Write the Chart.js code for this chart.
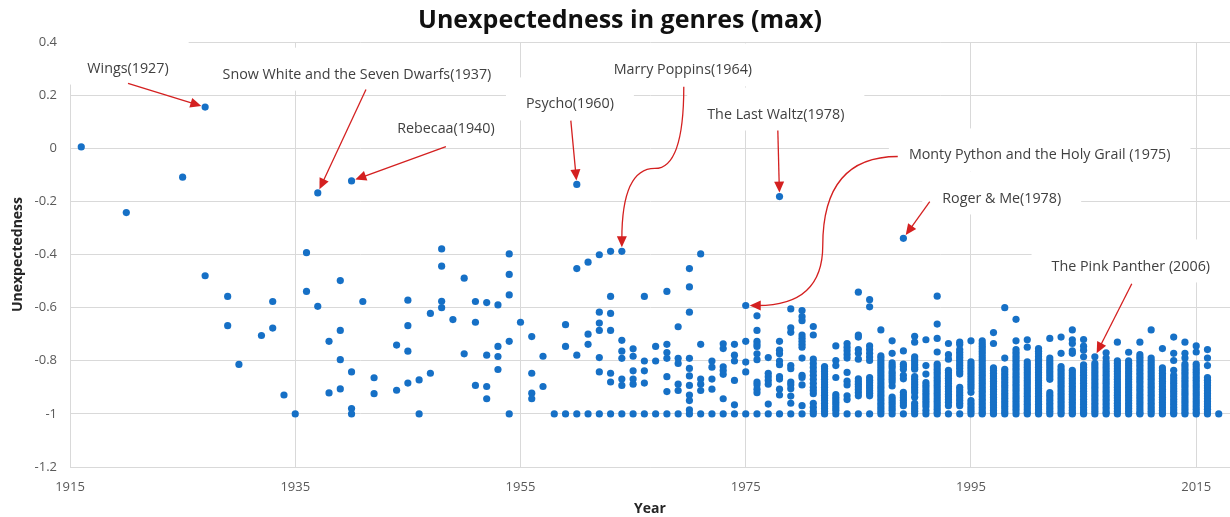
<!DOCTYPE html>
<html>
<head>
<meta charset="utf-8">
<script src="https://cdn.jsdelivr.net/npm/chart.js@4.4.1/dist/chart.umd.min.js"></script>
<style>
    html, body { margin: 0; padding: 0; background: #fff; }
    #wrap { width: 1230px; height: 517px; position: relative; }
</style>
</head>
<body>
<div id="wrap"><canvas id="grafico"></canvas></div>
<script>
const xTicks = [1915, 1935, 1955, 1975, 1995, 2015];
const yTicks = [-1.2, -1, -0.8, -0.6, -0.4, -0.2, 0, 0.2, 0.4];

// [year, [unexpectedness values of that year]]
const anosAntigos = [
    [1916, [0.005]], [1920, [-0.242]], [1925, [-0.109]], [1927, [0.155, -0.48]],
    [1929, [-0.558, -0.668]], [1930, [-0.814]], [1932, [-0.705]], [1933, [-0.577, -0.677]],
    [1934, [-0.929]], [1935, [-1]], [1936, [-0.393, -0.539]], [1937, [-0.168, -0.595]],
    [1938, [-0.727, -0.921]], [1939, [-0.498, -0.686, -0.796, -0.906]],
    [1940, [-0.123, -0.842, -0.98, -1]], [1941, [-0.577]], [1942, [-0.864, -0.924]],
    [1944, [-0.741, -0.911]], [1945, [-0.572, -0.668, -0.764, -0.884]], [1946, [-0.872, -1]],
    [1947, [-0.622, -0.847]], [1948, [-0.379, -0.444, -0.576, -0.6]], [1949, [-0.645]],
    [1950, [-0.489, -0.774]], [1951, [-0.577, -0.655, -0.893]],
    [1952, [-0.581, -0.779, -0.897, -0.943]], [1953, [-0.59, -0.746, -0.784, -0.833]],
    [1954, [-0.398, -0.475, -0.552, -0.727, -1]]
];

const anosMeio = [
    [1955, [-0.655]], [1956, [-0.709, -0.847, -0.922, -0.943]], [1957, [-0.783, -0.897]],
    [1958, [-1]], [1959, [-0.664, -0.746, -1]], [1960, [-0.136, -0.453, -0.779, -1]],
    [1961, [-0.429, -0.7, -0.738, -1]],
    [1962, [-0.401, -0.617, -0.658, -0.686, -0.788, -0.842, -1]],
    [1963, [-0.388, -0.558, -0.622, -0.686, -0.847, -0.88, -1]],
    [1964, [-0.388, -0.723, -0.764, -0.791, -0.869, -0.893, -1]],
    [1965, [-0.755, -0.783, -0.838, -0.869, -0.888, -1]],
    [1966, [-0.558, -0.801, -0.838, -0.884, -1]], [1967, [-0.746, -0.801, -1]],
    [1968, [-0.539, -0.738, -0.769, -0.791, -0.86, -0.916, -1]],
    [1969, [-0.672, -0.791, -0.81, -0.888, -0.912, -1]],
    [1970, [-0.453, -0.522, -0.617, -0.791, -0.829, -0.857, -0.893, -0.929, -0.95, -0.985, -1]],
    [1971, [-0.398, -0.738, -0.869, -0.888, -0.912, -1]],
    [1972, [-0.801, -0.824, -0.869, -0.907, -1]],
    [1973, [-0.736, -0.754, -0.823, -0.837, -0.851, -0.943, -1]],
    [1974, [-0.738, -0.779, -0.801, -0.874, -0.966, -1]],
    [1975, [-0.592, -0.727, -0.805, -0.842, -1]],
    [1976, [-0.631, -0.686, -0.727, -0.737, -0.746, -0.774, -0.796, -0.88, -0.89, -0.907, -0.92, -1]],
    [1977, [-0.788, -0.847, -0.86, -0.874, -0.888, -0.963, -1]],
    [1978, [-0.182, -0.727, -0.76, -0.774, -0.801, -0.815, -0.86, -0.869, -0.907, -0.929, -1]],
    [1979, [-0.605, -0.676, -0.693, -0.818, -0.83, -0.88, -0.89, -0.905, -0.933, -0.96, -1]]
];

const anosRecentes = [
    [1980, [-0.611, -0.634, -0.649, -0.703, -0.715, -0.727, -0.738, -0.749, -0.79, -0.855, -0.863, -0.891, -0.969, -1]],
    [1981, [-0.671, -0.703, -0.794, -0.81, -0.825, -0.84, -0.855, -0.87, -0.885, -0.9, -0.912, -0.924, -0.96, -0.975, -0.99, -1]],
    [1982, [-0.822, -0.83, -0.84, -0.85, -0.86, -0.87, -0.88, -0.89, -0.9, -0.91, -0.92, -0.93, -0.94, -0.95, -0.96, -0.97, -0.98, -0.99, -1]],
    [1983, [-0.744, -0.799, -0.818, -0.863, -0.927, -0.937, -0.947, -0.957, -0.967, -0.977, -0.987, -1]],
    [1984, [-0.735, -0.749, -0.762, -0.776, -0.79, -0.844, -0.877, -0.891, -0.932, -0.946, -1]],
    [1985, [-0.542, -0.703, -0.711, -0.758, -0.772, -0.794, -0.868, -0.878, -0.888, -0.898, -0.908, -0.92, -0.932, -1]],
    [1986, [-0.57, -0.597, -0.744, -0.758, -0.772, -0.786, -0.799, -0.863, -0.873, -0.883, -0.893, -0.903, -0.913, -0.922, -0.932, -1]],
    [1987, [-0.684, -0.782, -0.79, -0.8, -0.81, -0.82, -0.83, -0.84, -0.85, -0.86, -0.87, -0.88, -0.89, -0.9, -0.91, -0.92, -0.93, -0.94, -0.95, -0.96, -0.97, -0.98, -0.99, -1]],
    [1988, [-0.725, -0.772, -0.808, -0.818, -0.827, -0.841, -0.85, -0.86, -0.87, -0.88, -0.895, -0.937, -0.947, -0.957, -0.967, -0.977, -0.987, -1]],
    [1989, [-0.339, -0.763, -0.813, -0.822, -0.832, -0.855, -0.868, -0.919, -0.929, -0.939, -0.949, -0.959, -0.969, -1]],
    [1990, [-0.708, -0.73, -0.785, -0.795, -0.805, -0.815, -0.825, -0.832, -0.86, -0.87, -0.88, -0.89, -0.9, -0.91, -0.92, -0.937, -0.96, -0.97, -0.98, -0.99, -1]],
    [1991, [-0.721, -0.818, -0.85, -0.882, -0.892, -0.902, -0.912, -0.922, -0.932, -0.942, -0.952, -0.962, -0.972, -0.987, -1]],
    [1992, [-0.557, -0.662, -0.716, -0.767, -0.813, -0.823, -0.833, -0.843, -0.853, -0.863, -0.873, -0.883, -0.893, -0.903, -0.913, -0.923, -0.933, -0.943, -0.953, -0.963, -0.973, -0.983, -0.993, -1]],
    [1993, [-0.735, -0.777, -0.794, -0.836, -0.846, -0.856, -0.866, -0.876, -0.886, -0.896, -0.906, -0.916, -0.926, -0.936, -0.946, -0.956, -0.969, -1]],
    [1994, [-0.73, -0.739, -0.758, -0.768, -0.778, -0.788, -0.798, -0.808, -0.818, -0.828, -0.84, -0.85, -0.9, -0.91, -0.92, -0.93, -0.94, -0.95, -0.96, -0.969, -1]],
    [1995, [-0.725, -0.804, -0.814, -0.824, -0.834, -0.844, -0.854, -0.864, -0.874, -0.884, -0.894, -0.904, -0.919, -0.95, -0.96, -0.97, -0.98, -0.99, -1]],
    [1996, [-0.725, -0.735, -0.745, -0.755, -0.765, -0.775, -0.785, -0.795, -0.805, -0.815, -0.825, -0.835, -0.845, -0.855, -0.865, -0.875, -0.885, -0.895, -0.905, -0.915, -0.925, -0.935, -0.945, -0.955, -0.965, -0.975, -0.985, -0.995, -1]],
    [1997, [-0.694, -0.735, -0.827, -0.837, -0.847, -0.857, -0.867, -0.877, -0.887, -0.897, -0.907, -0.917, -0.927, -0.937, -0.947, -0.957, -0.967, -0.977, -0.987, -0.997, -1]],
    [1998, [-0.6, -0.79, -0.832, -0.842, -0.852, -0.862, -0.872, -0.882, -0.892, -0.902, -0.912, -0.922, -0.932, -0.942, -0.952, -0.962, -0.972, -0.982, -0.992, -1]],
    [1999, [-0.644, -0.725, -0.758, -0.768, -0.778, -0.788, -0.798, -0.808, -0.818, -0.828, -0.838, -0.848, -0.858, -0.868, -0.878, -0.888, -0.898, -0.908, -0.918, -0.928, -0.938, -0.948, -0.958, -0.968, -0.978, -0.988, -1]],
    [2000, [-0.721, -0.749, -0.804, -0.814, -0.824, -0.834, -0.844, -0.854, -0.864, -0.874, -0.884, -0.894, -0.904, -0.914, -0.924, -0.934, -0.944, -0.954, -0.964, -0.974, -0.984, -0.994, -1]],
    [2001, [-0.754, -0.764, -0.774, -0.784, -0.794, -0.804, -0.814, -0.824, -0.834, -0.844, -0.854, -0.864, -0.874, -0.884, -0.894, -0.904, -0.914, -0.924, -0.934, -0.944, -0.954, -0.964, -0.974, -0.984, -0.994, -1]],
    [2002, [-0.716, -0.79, -0.8, -0.81, -0.82, -0.83, -0.84, -0.85, -0.86, -0.87, -0.92, -0.93, -0.94, -0.95, -0.96, -0.97, -0.98, -0.99, -1]],
    [2003, [-0.711, -0.772, -0.822, -0.832, -0.842, -0.852, -0.862, -0.872, -0.882, -0.892, -0.902, -0.912, -0.922, -0.932, -0.942, -0.952, -0.962, -0.972, -0.982, -0.992, -1]],
    [2004, [-0.684, -0.721, -0.735, -0.763, -0.772, -0.836, -0.846, -0.856, -0.866, -0.876, -0.886, -0.896, -0.906, -0.916, -0.926, -0.936, -0.946, -0.956, -0.966, -0.976, -0.986, -0.996, -1]],
    [2005, [-0.72, -0.745, -0.76, -0.785, -0.815, -0.825, -0.835, -0.845, -0.855, -0.865, -0.875, -0.885, -0.895, -0.905, -0.915, -0.925, -0.935, -0.945, -0.955, -0.965, -0.975, -0.985, -0.995, -1]],
    [2006, [-0.785, -0.81, -0.82, -0.83, -0.84, -0.85, -0.86, -0.87, -0.88, -0.89, -0.9, -0.91, -0.92, -0.93, -0.94, -0.95, -0.96, -0.97, -0.98, -0.99, -1]],
    [2007, [-0.77, -0.79, -0.805, -0.815, -0.825, -0.835, -0.845, -0.855, -0.865, -0.875, -0.885, -0.895, -0.905, -0.915, -0.925, -0.935, -0.945, -0.955, -0.965, -0.975, -0.985, -0.995, -1]],
    [2008, [-0.73, -0.8, -0.81, -0.82, -0.83, -0.84, -0.85, -0.86, -0.87, -0.88, -0.89, -0.9, -0.91, -0.92, -0.93, -0.94, -0.95, -0.96, -0.97, -0.98, -0.99, -1]],
    [2009, [-0.768, -0.8, -0.81, -0.82, -0.83, -0.84, -0.85, -0.86, -0.87, -0.88, -0.89, -0.9, -0.91, -0.92, -0.93, -0.94, -0.95, -0.96, -0.97, -0.98, -0.99, -1]],
    [2010, [-0.73, -0.777, -0.787, -0.797, -0.807, -0.817, -0.827, -0.837, -0.847, -0.857, -0.867, -0.877, -0.887, -0.897, -0.907, -0.917, -0.927, -0.937, -0.947, -0.957, -0.967, -0.977, -0.987, -0.997, -1]],
    [2011, [-0.684, -0.79, -0.8, -0.81, -0.82, -0.83, -0.84, -0.85, -0.86, -0.87, -0.88, -0.89, -0.9, -0.91, -0.92, -0.93, -0.94, -0.95, -0.96, -0.97, -0.98, -0.99, -1]],
    [2012, [-0.754, -0.827, -0.837, -0.847, -0.857, -0.867, -0.877, -0.887, -0.897, -0.907, -0.917, -0.927, -0.937, -0.947, -0.957, -0.967, -0.977, -0.987, -0.997, -1]],
    [2013, [-0.711, -0.772, -0.799, -0.836, -0.855, -0.865, -0.875, -0.885, -0.895, -0.905, -0.915, -0.925, -0.935, -0.945, -0.955, -0.965, -0.975, -0.985, -0.995, -1]],
    [2014, [-0.73, -0.772, -0.79, -0.813, -0.823, -0.833, -0.843, -0.853, -0.863, -0.873, -0.883, -0.893, -0.903, -0.913, -0.923, -0.933, -0.943, -0.953, -0.963, -0.973, -0.983, -0.993, -1]],
    [2015, [-0.744, -0.767, -0.813, -0.823, -0.833, -0.843, -0.853, -0.863, -0.873, -0.883, -0.893, -0.903, -0.913, -0.923, -0.933, -0.943, -0.953, -0.963, -0.973, -0.983, -0.993, -1]],
    [2016, [-0.758, -0.79, -0.818, -0.863, -0.873, -0.883, -0.893, -0.903, -0.913, -0.923, -0.933, -0.943, -0.953, -0.963, -0.973, -0.983, -0.993, -1]],
    [2017, [-1]]
];

// notes: label text, where the label sits, where the arrow starts, optional bend, the film's point
const notas = [
    { texto: 'Wings(1927)', rotulo: [1920.15, 0.300], inicio: [1920.15, 0.244], alvo: [1927, 0.155] },
    { texto: 'Snow White and the Seven Dwarfs(1937)', rotulo: [1940.48, 0.277], inicio: [1941.28, 0.221], alvo: [1937, -0.168] },
    { texto: 'Rebecaa(1940)', rotulo: [1948.38, 0.074], inicio: [1948.38, 0.006], alvo: [1940, -0.123] },
    { texto: 'Psycho(1960)', rotulo: [1959.39, 0.165], inicio: [1959.47, 0.104], alvo: [1960, -0.136] },
    { texto: 'Marry Poppins(1964)', rotulo: [1969.42, 0.293], inicio: [1969.5, 0.232], curva: 'v', meio: [1966.93, -0.076], alvo: [1964, -0.388] },
    { texto: 'The Last Waltz(1978)', rotulo: [1977.67, 0.127], inicio: [1977.85, 0.067], alvo: [1978, -0.182] },
    { texto: 'Monty Python and the Holy Grail (1975)', rotulo: [2001.1, -0.027], inicio: [1988.5, -0.031], curva: 'h', meio: [1981.84, -0.366], alvo: [1975, -0.592] },
    { texto: 'Roger & Me(1978)', rotulo: [1997.73, -0.189], inicio: [1991.34, -0.201], alvo: [1989, -0.339] },
    { texto: 'The Pink Panther (2006)', rotulo: [2009.19, -0.445], inicio: [2009.28, -0.510], alvo: [2006, -0.785] }
];

const pontos = [];
[anosAntigos, anosMeio, anosRecentes].forEach(grupo => {
    grupo.forEach(([ano, valores]) => {
        valores.forEach(v => pontos.push({ x: ano, y: v }));
    });
});

const corSeta = '#d42020';

function pontaSeta(ctx, de, ate) {
    const ang = Math.atan2(ate[1] - de[1], ate[0] - de[0]);
    const comp = 11, larg = 5;
    ctx.beginPath();
    ctx.moveTo(ate[0], ate[1]);
    ctx.lineTo(ate[0] - comp * Math.cos(ang) + larg * Math.sin(ang), ate[1] - comp * Math.sin(ang) - larg * Math.cos(ang));
    ctx.lineTo(ate[0] - comp * Math.cos(ang) - larg * Math.sin(ang), ate[1] - comp * Math.sin(ang) + larg * Math.cos(ang));
    ctx.closePath();
    ctx.fill();
}

// stop the tip just before the dot
function recuar(de, ate, d) {
    const dx = ate[0] - de[0], dy = ate[1] - de[1];
    const n = Math.hypot(dx, dy);
    return [ate[0] - dx / n * d, ate[1] - dy / n * d];
}

const anotacoes = {
    id: 'anotacoes',
    afterDatasetsDraw(chart) {
        const { ctx, scales: { x, y } } = chart;
        const px = p => [x.getPixelForValue(p[0]), y.getPixelForValue(p[1])];
        ctx.save();
        ctx.font = '14.3px "Open Sans"';

        // white boxes behind the labels
        notas.forEach(n => {
            const [cx, cy] = px(n.rotulo);
            const w = ctx.measureText(n.texto).width;
            ctx.fillStyle = '#ffffff';
            ctx.fillRect(cx - w / 2 - 20, cy - 27, w + 40, 43);
        });

        ctx.strokeStyle = corSeta;
        ctx.fillStyle = corSeta;
        ctx.lineWidth = 1.3;
        notas.forEach(n => {
            const a = px(n.inicio);
            const alvo = px(n.alvo);
            if (n.meio) {
                const m = px(n.meio);
                const c1 = n.curva === 'v' ? [a[0], m[1]] : [m[0], a[1]];
                const c2 = n.curva === 'v' ? [alvo[0], m[1]] : [m[0], alvo[1]];
                const fim = recuar(c2, alvo, 4);
                const base = recuar(c2, fim, 8);
                ctx.beginPath();
                ctx.moveTo(a[0], a[1]);
                ctx.quadraticCurveTo(c1[0], c1[1], m[0], m[1]);
                ctx.quadraticCurveTo(c2[0], c2[1], base[0], base[1]);
                ctx.stroke();
                pontaSeta(ctx, c2, fim);
            } else {
                const fim = recuar(a, alvo, 4);
                const base = recuar(a, fim, 8);
                ctx.beginPath();
                ctx.moveTo(a[0], a[1]);
                ctx.lineTo(base[0], base[1]);
                ctx.stroke();
                pontaSeta(ctx, a, fim);
            }
        });

        ctx.fillStyle = '#404040';
        ctx.textAlign = 'center';
        ctx.textBaseline = 'middle';
        notas.forEach(n => {
            const [cx, cy] = px(n.rotulo);
            ctx.fillText(n.texto, cx, cy);
        });
        ctx.restore();
    }
};

const ctxGrafico = document.getElementById('grafico').getContext('2d');
const grafico = new Chart(ctxGrafico, {
    type: 'scatter',
    data: {
        datasets: [{
            label: 'Unexpectedness',
            data: pontos,
            backgroundColor: '#1670c6',
            borderWidth: 0,
            pointRadius: 3.6,
            pointHoverRadius: 3.6
        }]
    },
    plugins: [anotacoes],
    options: {
        responsive: true,
        maintainAspectRatio: false,
        animation: false,
        layout: { autoPadding: false, padding: { left: 10, right: 0, top: 0, bottom: 0 } },
        plugins: {
            legend: { display: false },
            tooltip: { enabled: false },
            title: {
                display: true,
                text: 'Unexpectedness in genres (max)',
                color: '#111',
                font: { family: '"Open Sans"', size: 25, weight: 'bold' },
                padding: { top: 6, bottom: 6 }
            }
        },
        scales: {
            x: {
                type: 'linear',
                min: 1915,
                max: 2018,
                afterBuildTicks: scale => { scale.ticks = xTicks.map(v => ({ value: v })); },
                afterFit: scale => {
                    scale.height = 50;
                    scale.paddingLeft = 0;
                    scale.paddingRight = 0;
                },
                grid: { color: '#d9d9d9', drawTicks: false },
                border: { color: '#d9d9d9' },
                ticks: {
                    color: '#595959',
                    font: { family: '"Open Sans"', size: 13 },
                    padding: 12,
                    maxRotation: 0,
                    autoSkip: false,
                    callback: v => String(v)
                },
                title: {
                    display: true,
                    text: 'Year',
                    color: '#262626',
                    font: { family: '"Open Sans"', size: 14, weight: 'bold' },
                    padding: { top: 0, bottom: 0 }
                }
            },
            y: {
                min: -1.2,
                max: 0.4,
                afterBuildTicks: scale => { scale.ticks = yTicks.map(v => ({ value: v })); },
                afterFit: scale => { scale.width = 60; },
                grid: { color: '#d9d9d9', drawTicks: false },
                border: { color: '#d9d9d9' },
                ticks: {
                    color: '#595959',
                    font: { family: '"Open Sans"', size: 13 },
                    padding: 13,
                    callback: v => String(Math.round(v * 10) / 10)
                },
                title: {
                    display: true,
                    text: 'Unexpectedness',
                    color: '#262626',
                    font: { family: '"Open Sans"', size: 14, weight: 'bold' },
                    padding: { top: 0, bottom: 0 }
                }
            }
        }
    }
});
</script>
</body>
</html>
